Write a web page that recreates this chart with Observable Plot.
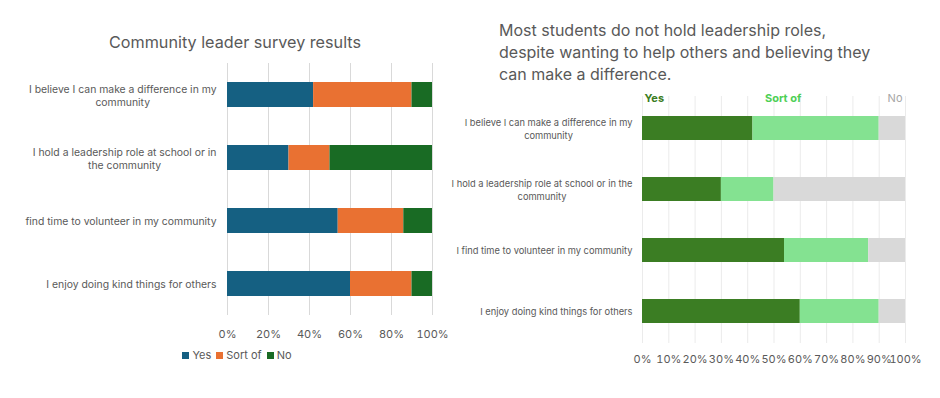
<!DOCTYPE html>
<html><head><meta charset="utf-8">
<script src="https://cdn.jsdelivr.net/npm/d3@7"></script>
<script src="https://cdn.jsdelivr.net/npm/@observablehq/plot@0.6"></script>
<style>
body{margin:0;background:#fff;font-family:Inter,sans-serif;}
#root{position:relative;width:940px;height:398px;overflow:hidden;}
.panel{position:absolute;top:0;overflow:visible;}
.title1{position:absolute;left:0;width:470px;top:32px;text-align:center;font-size:16.2px;color:#595959;white-space:nowrap;}
.title2{position:absolute;left:499px;top:19px;font-size:16px;line-height:22px;color:#595959;white-space:nowrap;}
.legend{position:absolute;top:348px;left:2px;width:470px;display:flex;justify-content:center;gap:5px;font-size:11px;color:#595959;}
.legend span.sw{display:inline-block;width:7px;height:7px;margin-right:3px;}
</style></head>
<body><div id="root"></div>
<script>
const categories = ["believe", "leader", "volunteer", "kind"];
const leftLabels = ["I believe I can make a difference in my\ncommunity", "I hold a leadership role at school or in\nthe community", "find time to volunteer in my community", "I enjoy doing kind things for others"];
const rightLabels = ["I believe I can make a difference in my\ncommunity", "I hold a leadership role at school or in the\ncommunity", "I find time to volunteer in my community", "I enjoy doing kind things for others"];
const responses = ["Yes", "Sort of", "No"];
const yesValues = [42, 30, 54, 60];
const sortOfValues = [48, 20, 32, 30];
const noValues = [10, 50, 14, 10];
const leftColors = ["#156082", "#e97132", "#196b24"];
const rightColors = ["#3b7d23", "#84e291", "#d9d9d9"];
const leftTicks = [0, 20, 40, 60, 80, 100];
const rightTicks = [0, 10, 20, 30, 40, 50, 60, 70, 80, 90, 100];
const titleLeft = "Community leader survey results";
const titleRight = "Most students do not hold leadership roles,<br>despite wanting to help others and believing they<br>can make a difference.";

const series = [yesValues, sortOfValues, noValues];
const rows = [];
categories.forEach((c, i) => responses.forEach((r, j) => rows.push({cat: c, idx: i, response: r, value: series[j][i]})));

const root = document.getElementById("root");
const FONT = "Inter, sans-serif";

function centerMultiline(svg) {
  svg.querySelectorAll("g.ylabels text").forEach(t => {
    const ts = t.querySelectorAll("tspan");
    if (ts.length < 2) return;
    const ws = Array.from(ts).map(s => s.getComputedTextLength());
    const m = Math.max(...ws);
    ts.forEach((s, k) => s.setAttribute("x", -(m - ws[k]) / 2));
  });
}

// Left chart
const left = Plot.plot({
  width: 470, height: 398,
  marginLeft: 227, marginRight: 38, marginTop: 63, marginBottom: 83,
  style: {fontFamily: FONT, color: "#595959", background: "transparent", overflow: "visible"},
  x: {domain: [0, 100], ticks: leftTicks, label: null, axis: null},
  y: {domain: categories, paddingInner: 0.6, paddingOuter: 0.3, label: null, axis: null},
  color: {domain: responses, range: leftColors},
  marks: [
    Plot.ruleX(leftTicks, {stroke: "#d9d9d9", strokeWidth: 1}),
    Plot.barX(rows, Plot.stackX({x: "value", y: "cat", fill: "response", order: responses})),
    Plot.axisX({ticks: leftTicks, tickSize: 0, tickPadding: 15, fontSize: 11, tickFormat: d => d + "%", label: null, fill: "#595959"}),
    Plot.text(categories, {y: d => d, frameAnchor: "left", text: (d, i) => leftLabels[i], textAnchor: "end", dx: -11, fontSize: 10.4, lineHeight: 1.28, fill: "#595959", className: "ylabels"})
  ]
});
left.classList.add("panel");
left.style.left = "0px";
root.appendChild(left);

// Right chart
const right = Plot.plot({
  width: 470, height: 398,
  marginLeft: 172, marginRight: 35, marginTop: 96, marginBottom: 55,
  style: {fontFamily: FONT, color: "#595959", background: "transparent", overflow: "visible"},
  x: {domain: [0, 100], ticks: rightTicks, label: null, axis: null},
  y: {domain: categories, paddingInner: 0.6, paddingOuter: 0.3, label: null, axis: null},
  color: {domain: responses, range: rightColors},
  marks: [
    Plot.ruleX(rightTicks, {stroke: "#ebebeb", strokeWidth: 1}),
    Plot.barX(rows, Plot.stackX({x: "value", y: "cat", fill: "response", order: responses})),
    Plot.axisX({ticks: rightTicks, tickSize: 0, tickPadding: 12, fontSize: 11, tickFormat: d => d + "%", label: null, fill: "#595959"}),
    Plot.text(categories, {y: d => d, frameAnchor: "left", text: (d, i) => rightLabels[i], textAnchor: "end", dx: -10, fontSize: 9.3, lineHeight: 1.32, fill: "#595959", className: "ylabels"}),
    Plot.text([responses[0]], {x: [0], frameAnchor: "top", textAnchor: "start", dx: 2, dy: 2, lineAnchor: "middle", fontWeight: "bold", fontSize: 11, fill: rightColors[0]}),
    Plot.text([responses[1]], {x: [yesValues[0]], frameAnchor: "top", textAnchor: "start", dx: 12, dy: 2, lineAnchor: "middle", fontWeight: "bold", fontSize: 11, fill: "#4ecf55"}),
    Plot.text([responses[2]], {x: [100], frameAnchor: "top", textAnchor: "end", dx: -3, dy: 2, lineAnchor: "middle", fontSize: 11, fill: "#a6a6a6"})
  ]
});
right.classList.add("panel");
right.style.left = "470px";
root.appendChild(right);

centerMultiline(left);
centerMultiline(right);

const t1 = document.createElement("div");
t1.className = "title1"; t1.textContent = titleLeft; root.appendChild(t1);
const t2 = document.createElement("div");
t2.className = "title2"; t2.innerHTML = titleRight; root.appendChild(t2);

const lg = document.createElement("div");
lg.className = "legend";
responses.forEach((r, j) => {
  const item = document.createElement("div");
  item.innerHTML = `<span class="sw" style="background:${leftColors[j]}"></span>${r}`;
  lg.appendChild(item);
});
root.appendChild(lg);
</script>
</body></html>
